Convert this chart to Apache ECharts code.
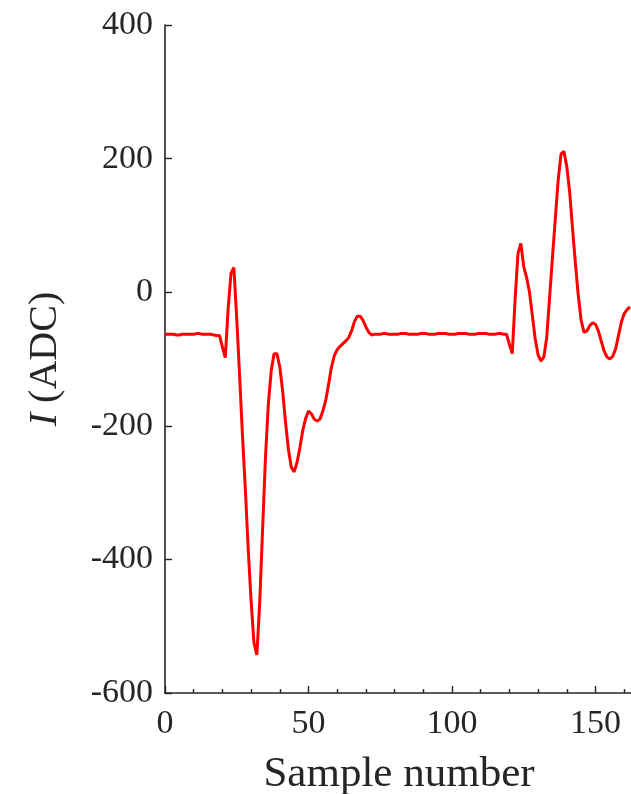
<!DOCTYPE html>
<html>
<head>
<meta charset="utf-8">
<script src="https://cdn.jsdelivr.net/npm/echarts@6/dist/echarts.min.js"></script>
<style>
html,body{margin:0;padding:0;background:#fff;}
#chart{width:631px;height:794px;}
</style>
</head>
<body>
<div id="chart"></div>
<script>
// Sample index runs 0..162 (one value per sample)
const currentADC = [
  -63,-63,-63,-63,-64,-64,-63,-63,-63,-63,
  -63,-62,-62,-63,-63,-63,-63,-64,-65,-65,
  -82,-98,-25,28,37,-40,-125,-215,-295,-385,
  -462,-525,-543,-465,-355,-248,-168,-118,-92,-92,
  -112,-148,-195,-235,-262,-269,-255,-233,-207,-189,
  -178,-182,-190,-193,-190,-178,-162,-138,-112,-95,
  -86,-81,-77,-73,-68,-58,-44,-36,-36,-42,
  -52,-60,-64,-63,-63,-63,-62,-62,-63,-63,
  -63,-63,-62,-62,-62,-63,-63,-63,-63,-62,
  -62,-62,-63,-63,-63,-62,-62,-62,-62,-63,
  -63,-63,-62,-62,-62,-62,-63,-63,-63,-62,
  -62,-62,-62,-63,-63,-63,-62,-62,-63,-63,
  -78,-92,-10,58,73,38,22,0,-35,-70,
  -94,-103,-97,-68,-8,52,110,168,207,211,
  188,150,95,43,-5,-42,-60,-58,-50,-46,
  -48,-58,-73,-88,-97,-100,-96,-85,-65,-45,
  -32,-26,-22
];
const xTicks = [0, 50, 100, 150];
const yTicks = [-600, -400, -200, 0, 200, 400];
const xLabel = 'Sample number';
const yLabel = '{i|I} (ADC)';

const seriesData = currentADC.map((v, i) => [i, v]);

const axisColor = '#262626';
const serif = '"Liberation Serif", "DejaVu Serif", serif';

const chart = echarts.init(document.getElementById('chart'), null, {renderer: 'canvas'});
chart.setOption({
  animation: false,
  backgroundColor: '#ffffff',
  grid: {left: 165, top: 25, width: 574, height: 668, containLabel: false, outerBoundsMode: 'none'},
  xAxis: {
    type: 'value',
    min: 0, max: 200, interval: 50,
    name: xLabel,
    nameLocation: 'middle',
    nameGap: 60,
    nameTextStyle: {fontFamily: serif, fontSize: 43, color: axisColor, padding: [0, 106, 0, 0]},
    axisLine: {show: true, onZero: false, lineStyle: {color: axisColor, width: 1.6}},
    axisTick: {show: true, inside: true, length: 7, lineStyle: {color: axisColor, width: 1.4}},
    minorTick: {show: true, splitNumber: 5, length: 4, lineStyle: {color: axisColor, width: 1.4}},
    axisLabel: {fontFamily: serif, fontSize: 34, color: axisColor, margin: 14,
      formatter: v => xTicks.includes(v) ? String(v) : ''},
    splitLine: {show: false}
  },
  yAxis: {
    type: 'value',
    min: -600, max: 400, interval: 200,
    name: yLabel,
    nameLocation: 'middle',
    nameGap: 100,
    nameTextStyle: {fontFamily: serif, fontSize: 40, color: axisColor,
      rich: {i: {fontFamily: serif, fontSize: 40, fontStyle: 'italic', color: axisColor}}},
    axisLine: {show: true, onZero: false, lineStyle: {color: axisColor, width: 1.6}},
    axisTick: {show: true, inside: true, length: 7, lineStyle: {color: axisColor, width: 1.4}},
    axisLabel: {fontFamily: serif, fontSize: 34, color: axisColor, margin: 12,
      formatter: v => yTicks.includes(v) ? String(v) : ''},
    splitLine: {show: false}
  },
  series: [{
    type: 'line',
    data: seriesData,
    showSymbol: false,
    symbol: 'none',
    lineStyle: {color: '#ff0000', width: 3},
    smooth: false,
    clip: true
  }]
});
</script>
</body>
</html>
